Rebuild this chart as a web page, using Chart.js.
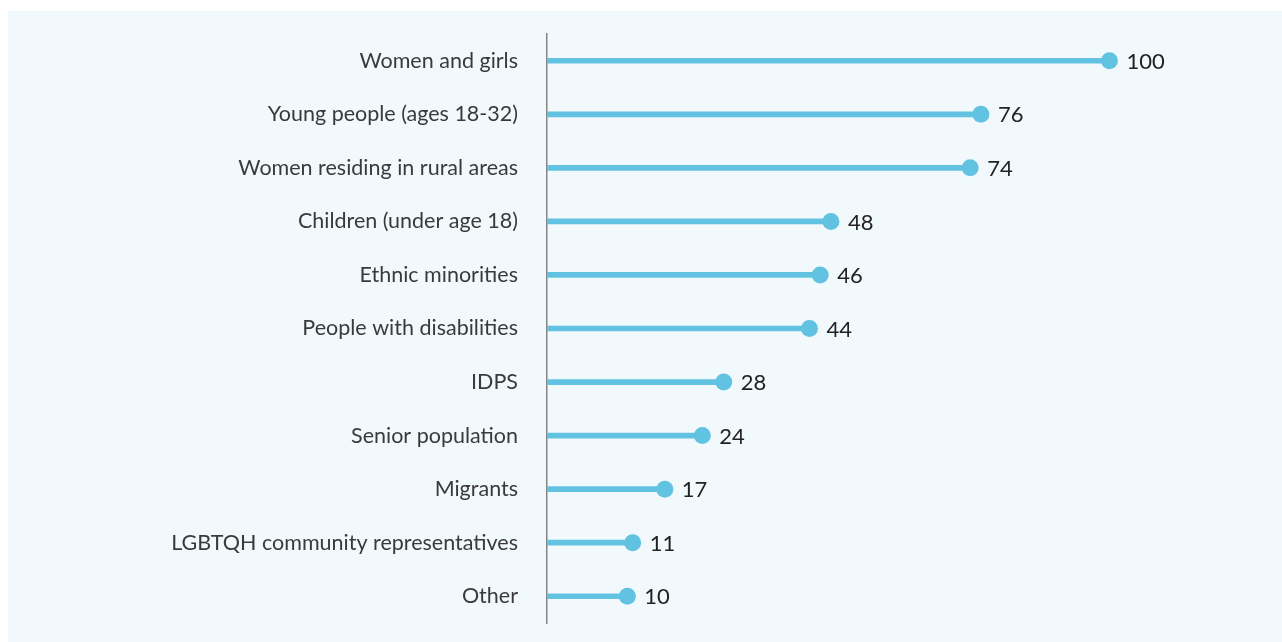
<!DOCTYPE html>
<html>
<head>
<meta charset="utf-8">
<script src="https://cdn.jsdelivr.net/npm/chart.js@4/dist/chart.umd.min.js"></script>
<style>
  html, body { margin: 0; padding: 0; background: #ffffff; }
  .panel { position: absolute; left: 8px; top: 11px; right: 0; bottom: 0; background: #f1f9fc; }
  .wrap { position: absolute; left: 0; top: 0; width: 1282px; height: 642px; }
</style>
</head>
<body>
<div class="panel"></div>
<div class="wrap"><canvas id="chart" width="1282" height="642"></canvas></div>
<script>
// categories and counts, top to bottom
const categories = [
    'Women and girls',
    'Young people (ages 18-32)',
    'Women residing in rural areas',
    'Children (under age 18)',
    'Ethnic minorities',
    'People with disabilities',
    'IDPS',
    'Senior population',
    'Migrants',
    'LGBTQH community representatives',
    'Other'
];
const counts = [100, 76, 74, 48, 46, 44, 28, 24, 17, 11, 10];

const axisMin = -5;
const axisMax = 110;
const lollipopBlue = '#62c2e2';

// draws the number to the right of every dot
const valueLabels = {
    id: 'valueLabels',
    afterDatasetsDraw(chart) {
        const ctx = chart.ctx;
        const meta = chart.getDatasetMeta(1);
        ctx.save();
        ctx.font = '22px Lato';
        ctx.fillStyle = '#222222';
        ctx.textAlign = 'left';
        ctx.textBaseline = 'middle';
        meta.data.forEach((pt, i) => {
            ctx.fillText(String(counts[i]), pt.x + 17, pt.y + 1);
        });
        ctx.restore();
    }
};

new Chart(document.getElementById('chart'), {
    type: 'bar',
    data: {
        labels: categories,
        datasets: [{
            data: counts,
            base: axisMin,
            backgroundColor: lollipopBlue,
            barThickness: 5,
            borderWidth: 0
        }, {
            type: 'line',
            data: counts,
            showLine: false,
            pointRadius: 8.5,
            pointHoverRadius: 8.5,
            pointBackgroundColor: lollipopBlue,
            pointBorderWidth: 0,
            clip: false
        }]
    },
    options: {
        indexAxis: 'y',
        responsive: false,
        animation: false,
        layout: { padding: { top: 34, bottom: 19, left: 0, right: 119 } },
        scales: {
            x: {
                display: false,
                min: axisMin,
                max: axisMax
            },
            y: {
                // invisible tick marks keep the gap between labels and axis
                grid: { display: true, drawOnChartArea: false, drawTicks: true, tickLength: 29, tickColor: 'rgba(0,0,0,0)' },
                border: { display: true, color: '#858585', width: 1.5 },
                ticks: {
                    color: '#3a3a3a',
                    font: { family: 'Lato', size: 21.5 },
                    padding: 0
                },
                afterFit(scale) { scale.width = 547; }
            }
        },
        plugins: {
            legend: { display: false },
            tooltip: { enabled: false }
        }
    },
    plugins: [valueLabels]
});
</script>
</body>
</html>
